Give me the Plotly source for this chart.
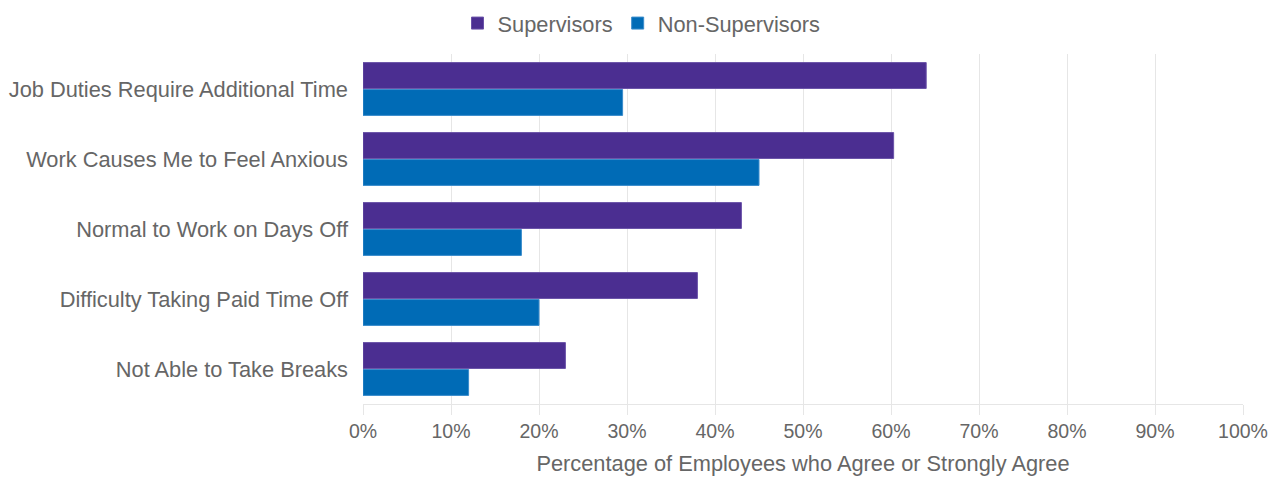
import plotly.graph_objects as go

categories = [
    "Job Duties Require Additional Time",
    "Work Causes Me to Feel Anxious",
    "Normal to Work on Days Off",
    "Difficulty Taking Paid Time Off",
    "Not Able to Take Breaks",
]
supervisors = [64, 60.3, 43, 38, 23]
non_supervisors = [29.5, 45, 18, 20, 12]
tick_vals = [0, 10, 20, 30, 40, 50, 60, 70, 80, 90, 100]
tick_text = [f"{v}%" for v in tick_vals]

purple = "#4B2E91"
blue = "#006BB6"
font = "Liberation Sans, Arial, sans-serif"
text_color = "#666666"

fig = go.Figure()
fig.add_trace(go.Bar(y=categories, x=supervisors, name="Supervisors", orientation="h",
                     marker=dict(color=purple, line=dict(color="#6a52a8", width=1))))
fig.add_trace(go.Bar(y=categories, x=non_supervisors, name="Non-Supervisors", orientation="h",
                     marker=dict(color=blue, line=dict(color="#3a8ccc", width=1))))

fig.update_layout(
    width=1283, height=483,
    margin=dict(l=363, r=40, t=54, b=79, autoexpand=False),
    plot_bgcolor="white", paper_bgcolor="white",
    barmode="group", bargap=0.23, bargroupgap=0.04,
    font=dict(family=font, size=21.8, color=text_color),
    legend=dict(orientation="h", xref="container", x=0.5, xanchor="center",
                yref="container", y=0.995, yanchor="top",
                font=dict(size=21.8, color=text_color), traceorder="normal"),
    showlegend=True,
)
fig.update_xaxes(range=[0, 100], tickvals=tick_vals, ticktext=tick_text,
                 showgrid=True, gridcolor="#e6e6e6", gridwidth=1,
                 zeroline=False, showline=True, linecolor="#e6e6e6",
                 ticks="outside", ticklen=10, tickcolor="#e6e6e6",
                 tickfont=dict(size=19.5, color=text_color),
                 title=dict(text="Percentage of Employees who Agree or Strongly Agree",
                            font=dict(size=21.8, color=text_color), standoff=14))
fig.update_yaxes(autorange="reversed", showgrid=False, ticks="", ticklabelstandoff=14,
                 tickfont=dict(size=21.8, color=text_color))

fig.write_html("out.html")
